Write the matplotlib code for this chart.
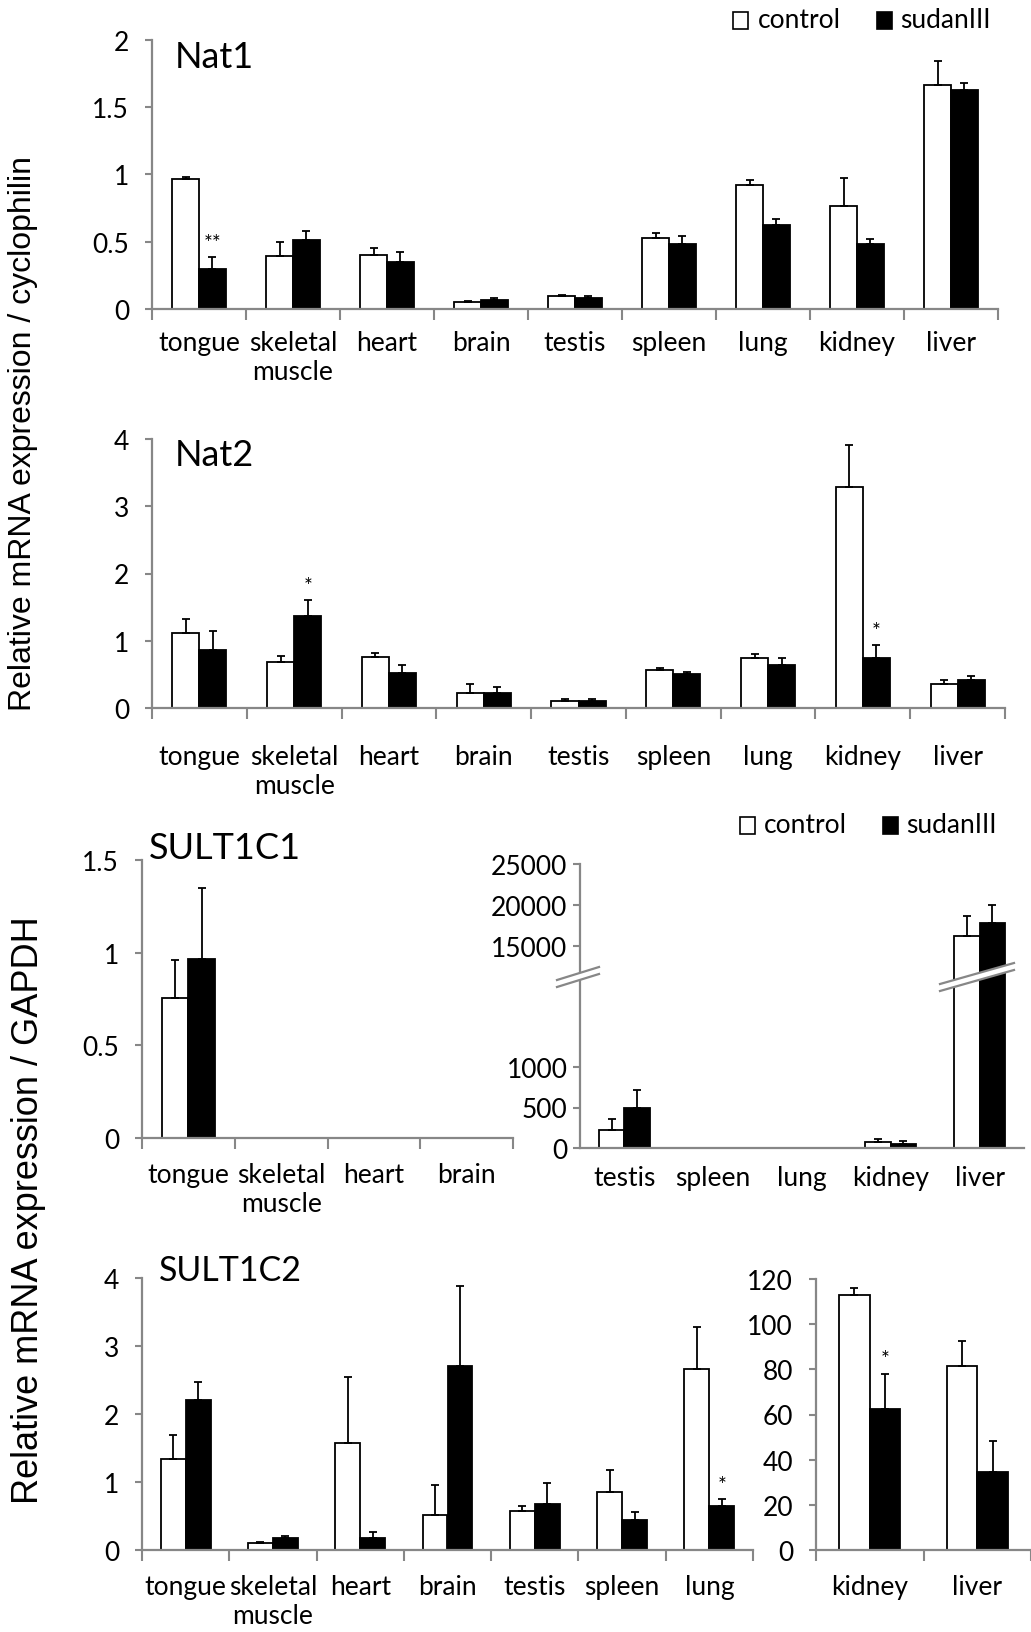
import numpy as np
import matplotlib
matplotlib.use("Agg")
import matplotlib.pyplot as plt
from matplotlib.patches import Polygon, Rectangle
from matplotlib.lines import Line2D

# ------------------------------------------------------------------ data
nat_tissues = ["tongue", "skeletal\nmuscle", "heart", "brain", "testis",
               "spleen", "lung", "kidney", "liver"]

nat1_ctrl     = [0.965, 0.39, 0.40, 0.054, 0.10, 0.525, 0.923, 0.762, 1.666]
nat1_ctrl_err = [0.015, 0.11, 0.05, 0.006, 0.006, 0.040, 0.035, 0.210, 0.173]
nat1_sud      = [0.30, 0.51, 0.35, 0.067, 0.08, 0.48, 0.624, 0.483, 1.624]
nat1_sud_err  = [0.086, 0.07, 0.07, 0.013, 0.02, 0.06, 0.044, 0.037, 0.052]
nat1_sig      = ["**", "", "", "", "", "", "", "", ""]

nat2_ctrl     = [1.12, 0.69, 0.76, 0.23, 0.11, 0.56, 0.74, 3.28, 0.35]
nat2_ctrl_err = [0.20, 0.08, 0.06, 0.12, 0.02, 0.04, 0.06, 0.63, 0.06]
nat2_sud      = [0.86, 1.37, 0.52, 0.22, 0.10, 0.51, 0.64, 0.74, 0.41]
nat2_sud_err  = [0.28, 0.24, 0.12, 0.09, 0.03, 0.03, 0.10, 0.19, 0.06]
nat2_sig      = ["", "*", "", "", "", "", "", "*", ""]

s1_left_tissues = ["tongue", "skeletal\nmuscle", "heart", "brain"]
s1_left_ctrl     = [0.755, np.nan, np.nan, np.nan]
s1_left_ctrl_err = [0.205, np.nan, np.nan, np.nan]
s1_left_sud      = [0.964, np.nan, np.nan, np.nan]
s1_left_sud_err  = [0.383, np.nan, np.nan, np.nan]

s1_right_tissues = ["testis", "spleen", "lung", "kidney", "liver"]
s1_right_ctrl     = [225, np.nan, np.nan, 71, 16280]
s1_right_ctrl_err = [137, np.nan, np.nan, 41, 2380]
s1_right_sud      = [500, np.nan, np.nan, 54, 17800]
s1_right_sud_err  = [217, np.nan, np.nan, 38, 2200]

s2_left_tissues = ["tongue", "skeletal\nmuscle", "heart", "brain", "testis",
                   "spleen", "lung"]
s2_left_ctrl     = [1.34, 0.10, 1.57, 0.51, 0.57, 0.86, 2.66]
s2_left_ctrl_err = [0.35, 0.02, 0.98, 0.45, 0.07, 0.32, 0.62]
s2_left_sud      = [2.21, 0.17, 0.17, 2.70, 0.67, 0.44, 0.64]
s2_left_sud_err  = [0.26, 0.03, 0.09, 1.18, 0.32, 0.12, 0.11]
s2_left_sig      = ["", "", "", "", "", "", "*"]

s2_right_tissues = ["kidney", "liver"]
s2_right_ctrl     = [112.9, 81.6]
s2_right_ctrl_err = [3.1, 10.9]
s2_right_sud      = [62.4, 34.7]
s2_right_sud_err  = [15.7, 13.4]
s2_right_sig      = ["*", ""]

series_names = ["control", "sudanIII"]

# ------------------------------------------------------------------ style
W, H = 1031, 1633
FONT = ["Lato", "DejaVu Sans"]
YFONT = ["Liberation Sans", "DejaVu Sans"]
plt.rcParams["font.family"] = FONT
GRAY = "#878787"
TICK_FS = 19
TITLE_FS = 26
BAR_W = 0.285
EDGE_LW = 1.3


def rect(l, r, top, bottom):
    """pixel box -> figure fraction [left, bottom, width, height]"""
    return [l / W, 1 - bottom / H, (r - l) / W, (bottom - top) / H]


def fx(x):
    return x / W


def fy(y):
    return 1 - y / H


fig = plt.figure(figsize=(W / 100, H / 100), dpi=100)


def bars(ax, ctrl, ctrl_err, sud, sud_err, sig=None):
    n = len(ctrl)
    x = np.arange(n)
    ctrl = np.asarray(ctrl, float)
    sud = np.asarray(sud, float)
    ax.bar(x - BAR_W / 2, ctrl, BAR_W, color="white", edgecolor="black",
           linewidth=EDGE_LW, zorder=2)
    ax.bar(x + BAR_W / 2, sud, BAR_W, color="black", edgecolor="black",
           linewidth=EDGE_LW, zorder=2)
    for xs, v, e in ((x - BAR_W / 2, ctrl, ctrl_err), (x + BAR_W / 2, sud, sud_err)):
        e = np.asarray(e, float)
        ax.errorbar(xs, v, yerr=[np.zeros(n), e], fmt="none", ecolor="black",
                    elinewidth=1.3, capsize=3, capthick=1.3, zorder=3)
    if sig is not None:
        for i, s in enumerate(sig):
            if s:
                ax.annotate(s, (x[i] + BAR_W / 2, sud[i] + sud_err[i]),
                            xytext=(0, 3), textcoords="offset points",
                            ha="center", va="bottom", fontsize=15)
    ax.set_xlim(-0.5, n - 0.5)


def style(ax, labels, yticks, yticklabels, ylim, xpad, ypad=11.5, xaxis=True):
    n = len(labels)
    ax.set_ylim(*ylim)
    for s in ("top", "right"):
        ax.spines[s].set_visible(False)
    for s in ("left", "bottom"):
        ax.spines[s].set_color(GRAY)
        ax.spines[s].set_linewidth(1.6)
    ax.set_yticks(yticks)
    ax.set_yticklabels(yticklabels)
    ax.tick_params(axis="y", direction="out", length=5, width=1.5, color=GRAY,
                   pad=ypad, labelsize=TICK_FS)
    if xaxis:
        ax.set_xticks(np.arange(n + 1) - 0.5)
        ax.set_xticklabels([])
        ax.set_xticks(np.arange(n), minor=True)
        ax.set_xticklabels(labels, minor=True)
        ax.tick_params(axis="x", which="major", direction="out", length=8,
                       width=1.5, color=GRAY)
        ax.tick_params(axis="x", which="minor", length=0, pad=xpad,
                       labelsize=TICK_FS)
    else:
        ax.spines["bottom"].set_visible(False)
        ax.set_xticks([])
    ax.set_facecolor("none")


# ---------------- Nat1
ax1 = fig.add_axes(rect(152, 998, 40.7, 310))
bars(ax1, nat1_ctrl, nat1_ctrl_err, nat1_sud, nat1_sud_err, nat1_sig)
style(ax1, nat_tissues, [0, 0.5, 1, 1.5, 2], ["0", "0.5", "1", "1.5", "2"],
      (0, 2), xpad=15)
fig.text(fx(175), fy(58), "Nat1", fontsize=TITLE_FS, ha="left", va="center")

# ---------------- Nat2
ax2 = fig.add_axes(rect(152, 1005, 440, 709))
bars(ax2, nat2_ctrl, nat2_ctrl_err, nat2_sud, nat2_sud_err, nat2_sig)
style(ax2, nat_tissues, [0, 1, 2, 3, 4], ["0", "1", "2", "3", "4"],
      (0, 4), xpad=26)
fig.text(fx(175), fy(455), "Nat2", fontsize=TITLE_FS, ha="left", va="center")

# ---------------- SULT1C1 left
ax3 = fig.add_axes(rect(142, 513, 861, 1139))
bars(ax3, s1_left_ctrl, s1_left_ctrl_err, s1_left_sud, s1_left_sud_err)
style(ax3, s1_left_tissues, [0, 0.5, 1, 1.5], ["0", "0.5", "1", "1.5"],
      (0, 1.5), xpad=17)
fig.text(fx(149), fy(849), "SULT1C1", fontsize=26, ha="left", va="center")

# ---------------- SULT1C1 right (broken axis)
BREAK_Y = 977
ax4 = fig.add_axes(rect(580, 1024, BREAK_Y, 1149))
bars(ax4, s1_right_ctrl, s1_right_ctrl_err, s1_right_sud, s1_right_sud_err)
style(ax4, s1_right_tissues, [0, 500, 1000], ["0", "500", "1000"],
      (0, 1000 * (1149 - BREAK_Y) / 81.0), xpad=12, ypad=4)

ax5 = fig.add_axes(rect(580, 1024, 865, BREAK_Y), sharex=ax4)
bars(ax5, s1_right_ctrl, s1_right_ctrl_err, s1_right_sud, s1_right_sud_err)
style(ax5, s1_right_tissues, [15000, 20000, 25000], ["15000", "20000", "25000"],
      (15000 - 5000 * (BREAK_Y - 947) / 41.0, 25000), xpad=12, ypad=4,
      xaxis=False)
ax5.tick_params(axis="x", which="both", length=0, labelbottom=False)


def break_mark(x0, y0a, y0b, x1, y1a, y1b):
    poly = Polygon([(fx(x0), fy(y0a)), (fx(x1), fy(y1a)),
                    (fx(x1), fy(y1b)), (fx(x0), fy(y0b))],
                   closed=True, transform=fig.transFigure, facecolor="white",
                   edgecolor="none", zorder=20)
    fig.add_artist(poly)
    for ya, yb in ((y0a, y1a), (y0b, y1b)):
        fig.add_artist(Line2D([fx(x0), fx(x1)], [fy(ya), fy(yb)],
                              transform=fig.transFigure, color=GRAY, lw=1.6,
                              zorder=21))


break_mark(557, 981, 988, 599, 968, 975)
break_mark(940, 985, 992, 1014, 964, 971)

# ---------------- SULT1C2 left
ax6 = fig.add_axes(rect(142, 753, 1279, 1551))
bars(ax6, s2_left_ctrl, s2_left_ctrl_err, s2_left_sud, s2_left_sud_err,
     s2_left_sig)
style(ax6, s2_left_tissues, [0, 1, 2, 3, 4], ["0", "1", "2", "3", "4"],
      (0, 4), xpad=17)
fig.text(fx(159), fy(1271), "SULT1C2", fontsize=24.5, ha="left", va="center")

# ---------------- SULT1C2 right
ax7 = fig.add_axes(rect(816, 1031, 1280, 1551))
bars(ax7, s2_right_ctrl, s2_right_ctrl_err, s2_right_sud, s2_right_sud_err,
     s2_right_sig)
style(ax7, s2_right_tissues, [0, 20, 40, 60, 80, 100, 120],
      ["0", "20", "40", "60", "80", "100", "120"], (0, 120), xpad=17)
ax7.spines["bottom"].set_bounds(-0.5, 1.6)

# ---------------- legends


def legend(y, sq1, t1, sq2, t2):
    s = 15
    h = 17
    fig.add_artist(Rectangle((fx(sq1), fy(y + h / 2)), s / W, h / H,
                             transform=fig.transFigure, facecolor="white",
                             edgecolor="black", lw=1.2))
    fig.text(fx(t1), fy(y), series_names[0], fontsize=19, ha="left",
             va="center")
    fig.add_artist(Rectangle((fx(sq2), fy(y + h / 2)), s / W, h / H,
                             transform=fig.transFigure, facecolor="black",
                             edgecolor="black", lw=1.2))
    fig.text(fx(t2), fy(y), series_names[1], fontsize=19, ha="left",
             va="center")


legend(21, 733, 758, 877, 900)
legend(826, 740, 764, 883, 906)

# ---------------- y labels
fig.text(fx(23), fy(434), "Relative mRNA expression / cyclophilin",
         rotation=90, ha="center", va="center", fontsize=23, family=YFONT)
fig.text(fx(29), fy(1210), "Relative mRNA expression / GAPDH",
         rotation=90, ha="center", va="center", fontsize=26, family=YFONT)

fig.savefig("out.png", dpi=100)
